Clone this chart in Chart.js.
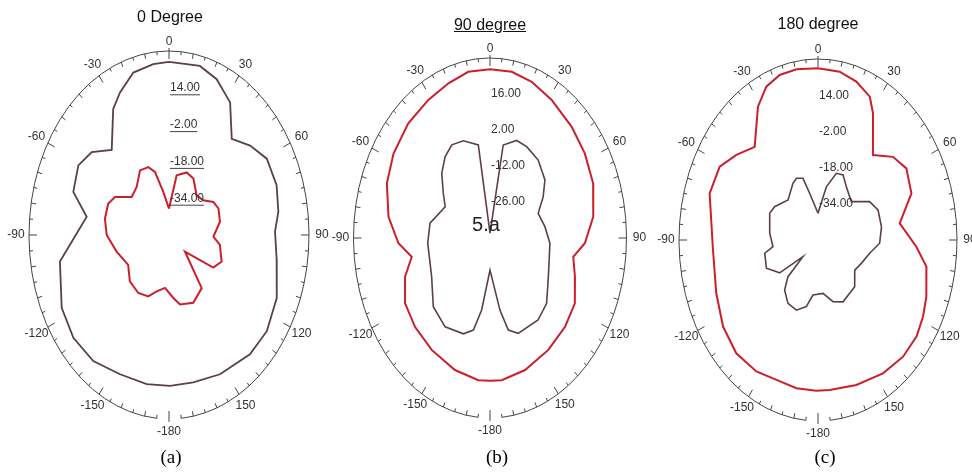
<!DOCTYPE html>
<html>
<head>
<meta charset="utf-8">
<script src="https://cdn.jsdelivr.net/npm/chart.js@4.4.1/dist/chart.umd.min.js"></script>
<style>
    body { margin: 0; background: #fff; }
    #wrap { position: relative; width: 972px; height: 472px; overflow: hidden; }
    canvas { position: absolute; top: 0; left: 0; }
    .titulo { position: absolute; transform: translate(-50%, -50%); white-space: nowrap;
              font-family: "Liberation Sans", Arial, sans-serif; font-size: 16px; color: #111; }
    .legenda { position: absolute; transform: translate(-50%, -50%); white-space: nowrap;
               font-family: "Liberation Serif", "Times New Roman", serif; font-size: 19px; color: #000; }
</style>
</head>
<body>
<div id="wrap">
    <canvas id="graficoA" width="972" height="472"></canvas>
    <canvas id="graficoB" width="972" height="472"></canvas>
    <canvas id="graficoC" width="972" height="472"></canvas>
    <div class="titulo" style="left:170px; top:17px">0 Degree</div>
    <div class="titulo" style="left:490px; top:25px; text-decoration: underline">90 degree</div>
    <div class="titulo" style="left:818px; top:24px">180 degree</div>
    <div class="legenda" style="left:171px; top:457px">(a)</div>
    <div class="legenda" style="left:497px; top:457px">(b)</div>
    <div class="legenda" style="left:825px; top:457px">(c)</div>
</div>
<script>
// (a) 0 Degree - angles in degrees, values in dB
const angA1 = [0, 13.5, 21.9, 31.2, 40.6, 50, 59.3, 70.6, 80.8, 88.6, 99.3, 114, 126.8, 138.3, 154.3, 167.8, 179.5,
    -168.9, -155.2, -141.7, -129.3, -117.3, -100.5, -80.4, -71.1, -59.7, -50.8, -41.5, -30.2, -24.3, -16.1, -6.9];
const valA1 = [25.3, 25.6, 23.0, 17.4, 5.1, 10.5, 15.0, 15.2, 13.3, 10.6, 12.3, 17.4, 19.8, 19.5, 17.2, 15.6, 15.6,
    16.1, 16.7, 19.8, 20.6, 19.0, 13.4, -2.3, 7.8, 10.0, 7.0, -0.6, 13.4, 18.0, 23.5, 24.8];
const angA2 = [0, 9.6, 20.4, 29.6, 42.5, 52.3, 60.4, 67.8, 78.8, 91.6, 98.4, 111, 119.2, 128.3, 141, 154.8, 168.2, 174.8,
    -174.3, -164, -156, -145.2, -132, -119.1, -103.5, -90, -78.9, -68.5, -61.8, -52.2, -41.5, -30.5, -21.8, -16.3, -9.9];
const valA2 = [-38.5, -23.7, -21.0, -21.8, -26.6, -25.3, -20.9, -19.5, -20.3, -24.6, -20.6, -17.8, -21.0, -38.4, -20.3, -17.4, -19.1, -22.5,
    -26.9, -24.5, -20.8, -19.3, -19.9, -23.3, -19.2, -14.4, -12.7, -12.7, -15.0, -23.0, -22.1, -17.4, -18.2, -21.4, -31.0];
const ticksA = [14, -2, -18, -34];

// (b) 90 degree
const angB1 = [0, 9.8, 19.4, 30.5, 44, 55.9, 68.1, 81.1, 92.4, 99.7, 109.1, 120.3, 131.9, 145.5, 160.7, 173.8, 180,
    -173.8, -160.7, -145.5, -131.9, -120.3, -109.1, -100.3, -92.5, -81, -68.1, -56.4, -43.2, -30.5, -19.5, -9.8];
const valB1 = [25.6, 25.6, 24.4, 22.3, 20.2, 18.7, 17.0, 13.6, 8.7, 3.3, 6.1, 10.4, 11.7, 12.8, 14.4, 15.6, 15.5,
    15.6, 14.4, 12.8, 11.7, 10.4, 6.1, 0.8, 7.0, 12.7, 17.0, 19.4, 21.2, 22.3, 23.8, 25.6];
const angB2 = [0, 10.6, 19.8, 27.9, 39.2, 51.3, 59.6, 68.8, 81.1, 93.8, 116.7, 131.2, 142.3, 158.7, 165.3, 169.7, 180,
    -171.3, -166.6, -159.9, -146.3, -132.6, -116.7, -93.6, -79.4, -62.1, -54, -44.5, -36.1, -28.4, -19.8, -9.4];
const valB2 = [-38.1, -3.2, 0.3, 0.2, -0.9, -3.9, -8.4, -13.5, -11.5, -9.2, -6.5, -1.4, 0.3, -0.2, -3.0, -11.5, -27.5,
    -11.7, -3.2, -0.3, 1.5, -0.5, -6.5, -8.0, -8.7, -14.0, -10.4, -4.7, -0.9, 1.2, 0.2, -3.3];
const ticksB = [16, 2, -12, -26];

// (c) 180 degree
const angC1 = [0, 9.5, 17.5, 25.2, 29.5, 40.1, 49.6, 58.1, 69, 81.1, 93, 100.7, 111.9, 119.3, 127, 136.5, 147.6, 161, 174.2,
    -179.2, -169.3, -158.9, -148.6, -136.8, -125, -111.9, -94.2, -71.7, -60.2, -51.3, -41.5, -30.4, -23.7, -16.8, -9.3];
const valC1 = [25.9, 25.4, 23.4, 20.0, 14.3, -0.9, 6.7, 9.9, 7.6, -2.4, 6.7, 13.5, 17.2, 19.3, 21.0, 21.1, 19.8, 17.8, 16.6,
    16.6, 16.7, 16.3, 18.1, 18.7, 16.7, 13.1, 10.6, 15.7, 15.2, 10.2, 5.0, 18.3, 24.0, 26.2, 26.5];
const angC2 = [0, 11.6, 19.7, 26.6, 34.8, 48.5, 60.3, 69, 80.9, 92.3, 101.1, 112.5, 122.2, 134.3, 152.2, 162.4, 173,
    -173.2, -167.1, -158.2, -148.3, -139, -133.2, -130.4, -123.3, -112.8, -100.8, -96.5, -83.9, -67, -59.5, -44.3, -29.9, -24.4, -17.6, -13.1];
const valC2 = [-38.2, -26.0, -18.7, -17.8, -21.4, -24.4, -15.8, -13.0, -13.0, -14.5, -19.7, -23.0, -25.0, -20.5, -19.1, -21.4, -26.2,
    -25.5, -19.8, -16.6, -17.1, -20.7, -26.3, -38.6, -23.6, -17.8, -18.8, -23.9, -22.1, -19.8, -21.0, -25.3, -21.1, -20.0, -21.4, -28.8];
const ticksC = [14, -2, -18, -34];

const angleLabels = [0, 30, 60, 90, 120, 150, -180, -150, -120, -90, -60, -30];

const VERMELHO = '#cc1f2b';
const ESCURO = '#5b3f4b';
const FONTE = '"Liberation Sans Narrow", "Liberation Sans", Arial, sans-serif';

// polar (angle, dB) -> normalized x/y for the scatter scales
function polarParaXY(angulos, valores, min, max) {
    const pontos = angulos.map((ang, i) => {
        const r = (valores[i] - min) / (max - min);
        const t = ang * Math.PI / 180;
        return { x: r * Math.sin(t), y: r * Math.cos(t) };
    });
    pontos.push(pontos[0]);
    return pontos;
}

const moldura = {
    id: 'moldura',
    afterDatasetsDraw(chart, args, opts) {
        const ctx = chart.ctx;
        const sx = chart.scales.x, sy = chart.scales.y;
        const cx = sx.getPixelForValue(0), cy = sy.getPixelForValue(0);
        const a = sx.getPixelForValue(1) - cx, b = cy - sy.getPixelForValue(1);
        const rad = d => d * Math.PI / 180;

        ctx.save();
        ctx.strokeStyle = '#444';
        ctx.lineWidth = 1;
        ctx.beginPath();
        ctx.ellipse(cx, cy, a, b, 0, rad(-175 - 90), rad(175 - 90), false);
        ctx.stroke();

        // ticks pointing inwards
        for (let t = -175; t <= 180; t += 5) {
            let len = 3.5;
            if (t % 10 === 0) len = 5;
            if (t % 30 === 0) len = 8;
            const s = Math.sin(rad(t)), c = Math.cos(rad(t));
            let ext = 0;
            if (t === 0 || t === 180) ext = 3;
            ctx.beginPath();
            ctx.moveTo(cx + (a + ext) * s, cy - (b + ext) * c);
            ctx.lineTo(cx + (a - len) * s, cy - (b - len) * c);
            ctx.stroke();
        }

        // angle labels
        ctx.fillStyle = '#333';
        ctx.font = '12px ' + FONTE;
        ctx.textAlign = 'center';
        ctx.textBaseline = 'middle';
        angleLabels.forEach(t => {
            const s = Math.sin(rad(t)), c = Math.cos(rad(t));
            const d = (t === 0) ? 9 : 13;
            ctx.fillText(String(t), cx + (a + d) * s, cy - (b + d) * c);
        });

        // radial labels
        ctx.textAlign = 'left';
        opts.rotulos.forEach(v => {
            const r = (v - opts.min) / (opts.max - opts.min);
            const y = sy.getPixelForValue(r);
            const txt = v.toFixed(2);
            ctx.fillText(txt, cx + 1, y);
            if (opts.sublinhado) {
                const w = ctx.measureText(txt).width;
                ctx.beginPath();
                ctx.moveTo(cx + 1, y + 7);
                ctx.lineTo(cx + 1 + w, y + 7);
                ctx.stroke();
            }
        });

        if (opts.nota) {
            ctx.fillStyle = '#222';
            ctx.font = '20px "Liberation Sans", Arial, sans-serif';
            ctx.textAlign = 'center';
            ctx.fillText(opts.nota, cx - 4, cy - 13);
        }
        ctx.restore();
    }
};

function desenharPainel(id, geo, series, cfg) {
    const W = 972, H = 472;
    const ctx = document.getElementById(id).getContext('2d');
    return new Chart(ctx, {
        type: 'scatter',
        data: {
            datasets: series.map(s => ({
                data: polarParaXY(s.ang, s.val, cfg.min, cfg.max),
                showLine: true,
                borderColor: s.cor,
                borderWidth: s.largura,
                pointRadius: 0,
                tension: 0,
                fill: false
            }))
        },
        options: {
            responsive: false,
            animation: false,
            events: [],
            layout: {
                padding: {
                    left: geo.cx - geo.a,
                    right: W - (geo.cx + geo.a),
                    top: geo.cy - geo.b,
                    bottom: H - (geo.cy + geo.b)
                }
            },
            scales: {
                x: { type: 'linear', min: -1, max: 1, display: false },
                y: { type: 'linear', min: -1, max: 1, display: false }
            },
            plugins: {
                legend: { display: false },
                tooltip: { enabled: false },
                moldura: cfg
            }
        },
        plugins: [moldura]
    });
}

desenharPainel('graficoA', { cx: 169, cy: 235, a: 140, b: 184 }, [
    { ang: angA1, val: valA1, cor: ESCURO, largura: 1.8 },
    { ang: angA2, val: valA2, cor: VERMELHO, largura: 2 }
], { min: -50, max: 30, rotulos: ticksA, sublinhado: true });

desenharPainel('graficoB', { cx: 490, cy: 238, a: 136.5, b: 180 }, [
    { ang: angB1, val: valB1, cor: VERMELHO, largura: 2 },
    { ang: angB2, val: valB2, cor: ESCURO, largura: 1.6 }
], { min: -40, max: 30, rotulos: ticksB, sublinhado: false, nota: '5.a' });

desenharPainel('graficoC', { cx: 818, cy: 240, a: 139, b: 181 }, [
    { ang: angC1, val: valC1, cor: VERMELHO, largura: 2 },
    { ang: angC2, val: valC2, cor: ESCURO, largura: 1.6 }
], { min: -50, max: 30, rotulos: ticksC, sublinhado: false });
</script>
</body>
</html>
